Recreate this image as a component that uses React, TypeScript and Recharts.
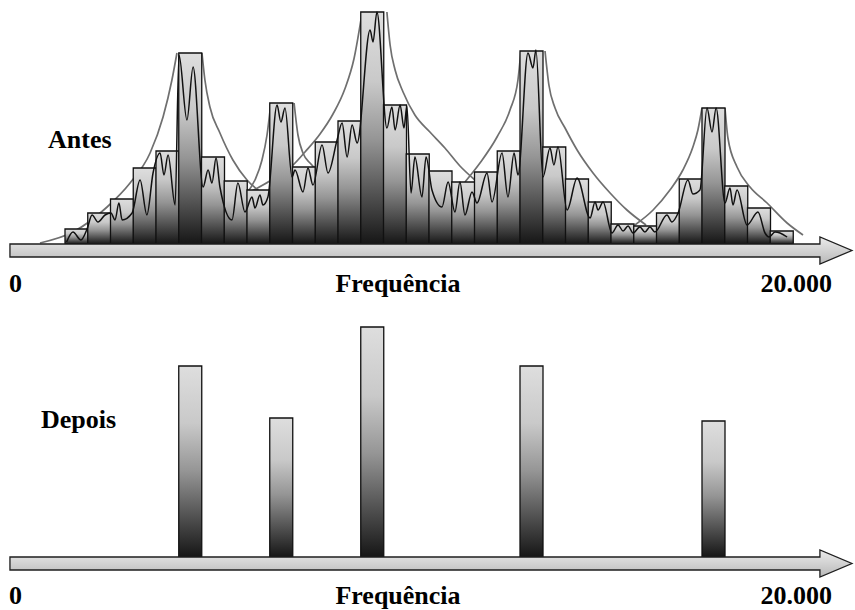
import { BarChart, Bar, LineChart, Line, XAxis, YAxis, ReferenceArea } from "recharts";

// layout of the drawing (pixels)
const W = 855;
const H = 270;
const LEFT = 65; // where the first frequency bin starts
const BIN = 22.75; // width of one bin
const BASE = 244; // baseline inside every chart box
const X_DOMAIN = [-LEFT / BIN, (W - LEFT) / BIN];
const Y_DOMAIN = [BASE - H, BASE];
const SERIF = "'Liberation Serif', 'Times New Roman', Times, serif";

// spectrum "Antes": one level per frequency bin
const bins = Array.from({ length: 32 }, (_, i) => `f${i + 1}`);
const beforeLevels = [
  15, 31, 45, 76, 93, 191, 87, 63, 54, 141, 77, 102, 123, 232, 139, 90,
  73, 62, 72, 93, 193, 97, 65, 42, 20, 18, 31, 65, 136, 58, 36, 13,
];

// "Depois": only the dominant bins survive
const afterBins = [6, 10, 14, 21, 29];
const afterLevels = [191, 139, 230, 191, 136];

// fine spectrum line (bin position, level)
const signal: [number, number][] = [
  [0.07, 2], [0.35, 12], [0.7, 4], [0.97, 15], [1.19, 29], [1.45, 22], [1.76, 29], [2.02, 31],
  [2.2, 24], [2.37, 41], [2.51, 24], [2.95, 31], [3.3, 64], [3.6, 29], [3.87, 71], [4.18, 91],
  [4.35, 69], [4.53, 89], [4.84, 39], [5.01, 189], [5.36, 124], [5.63, 177], [6.07, 57], [6.29, 74],
  [6.46, 61], [6.64, 86], [6.81, 57], [7.34, 24], [7.6, 61], [7.91, 32], [8.22, 47], [8.35, 36],
  [8.57, 49], [8.7, 39], [8.92, 47], [9.32, 139], [9.49, 122], [9.67, 136], [9.98, 67], [10.11, 74],
  [10.46, 52], [10.68, 76], [10.9, 59], [11.3, 99], [11.56, 71], [11.96, 104], [12.18, 121], [12.4, 87],
  [12.62, 119], [12.84, 101], [13.41, 214], [13.54, 202], [13.71, 232], [14.15, 116], [14.37, 137], [14.51, 114],
  [14.73, 139], [14.9, 116], [15.03, 138], [15.21, 51], [15.38, 87], [15.69, 47], [15.87, 87], [16.13, 54],
  [16.57, 37], [16.84, 62], [17.14, 32], [17.36, 62], [17.58, 29], [17.89, 52], [18.11, 41], [18.55, 71],
  [18.77, 42], [19.21, 91], [19.47, 47], [19.74, 91], [19.91, 69], [20.35, 191], [20.57, 176], [20.7, 194],
  [21.01, 67], [21.32, 96], [21.49, 79], [21.67, 97], [22.07, 34], [22.51, 66], [23.08, 26], [23.3, 42],
  [23.43, 34], [23.65, 42], [24.04, 11], [24.31, 19], [24.53, 13], [24.75, 18], [24.97, 11], [25.27, 17],
  [25.49, 12], [25.71, 17], [25.93, 12], [26.46, 29], [26.68, 22], [26.95, 31], [27.38, 64], [27.6, 50],
  [27.91, 54], [28.22, 136], [28.44, 112], [28.62, 136], [29.01, 41], [29.23, 56], [29.36, 39], [29.54, 54],
  [29.98, 19], [30.46, 32], [30.77, 11], [30.95, 7], [31.21, 12], [31.43, 11], [31.74, 7],
];

// masking envelopes around each peak
const risePeak1: [number, number][] = [[-1.1, 1], [0.35, 12], [1.85, 37], [2.86, 61], [3.74, 91], [4.31, 127], [4.7, 164], [4.92, 191]];
const fallPeak1: [number, number][] = [[6.02, 191], [6.15, 164], [6.37, 137], [6.81, 111], [7.38, 84], [8.0, 64], [8.79, 49]];
const risePeak2: [number, number][] = [[7.91, 49], [8.35, 64], [8.66, 84], [8.88, 109], [9.05, 141]];
const fallPeak2: [number, number][] = [[10.07, 141], [10.24, 109], [10.46, 91], [10.77, 81], [11.08, 74]];
const risePeak3: [number, number][] = [[8.13, 52], [9.0, 63], [10.07, 80], [10.55, 92], [11.21, 110], [11.78, 130], [12.3, 155], [12.7, 185], [13.05, 230]];
const fallPeak3: [number, number][] = [[14.15, 232], [14.29, 199], [14.51, 174], [14.86, 152], [15.38, 129], [16.04, 112], [16.7, 96], [17.36, 78], [18.02, 64]];
const risePeak4: [number, number][] = [[17.58, 62], [18.24, 81], [18.99, 107], [19.56, 134], [19.91, 164], [20.04, 193]];
const fallPeak4: [number, number][] = [[21.1, 193], [21.27, 159], [21.54, 136], [21.98, 116], [22.51, 94], [23.21, 71], [23.96, 51], [24.7, 34], [25.54, 19]];
const risePeak5: [number, number][] = [[25.05, 19], [25.85, 34], [26.59, 54], [27.16, 74], [27.6, 97], [27.82, 114], [28.0, 136]];
const fallPeak5: [number, number][] = [[29.01, 136], [29.14, 106], [29.54, 77], [30.11, 57], [30.86, 41], [31.74, 21], [32.44, 9]];
const envelopes = [risePeak1, fallPeak1, risePeak2, fallPeak2, risePeak3, fallPeak3, risePeak4, fallPeak4, risePeak5, fallPeak5];

// axis arrow extent in bin units
const axisStart = -2.42;
const axisEnd = 34.59;

const toPoints = (pts: [number, number][]) => pts.map(([u, v]) => ({ u, v }));

const beforeData = bins.map((bin, i) => ({ bin, level: beforeLevels[i] }));
const afterData = bins.map((bin, i) => {
  const k = afterBins.indexOf(i + 1);
  return { bin, level: k >= 0 ? afterLevels[k] : null };
});

function ArrowShape(props: any) {
  const { x, y, width, height } = props;
  const head = 32;
  const flare = 7;
  const x2 = x + width;
  const xs = x2 - head;
  const pts = [
    [x, y], [xs, y], [xs, y - flare], [x2, y + height / 2],
    [xs, y + height + flare], [xs, y + height], [x, y + height],
  ].map((p) => p.join(",")).join(" ");
  return <polygon points={pts} fill="url(#arrowFill)" stroke="#1e1e1e" strokeWidth={1.3} />;
}

function NumericLayer({ children }: { children: any }) {
  return (
    <LineChart width={W} height={H} margin={{ top: 0, right: 0, bottom: 0, left: 0 }}>
      <defs>
        <linearGradient id="arrowFill" x1="0" y1="0" x2="0" y2="1">
          <stop offset="0%" stopColor="#ececec" />
          <stop offset="100%" stopColor="#b8b8b8" />
        </linearGradient>
      </defs>
      <XAxis type="number" dataKey="u" domain={X_DOMAIN} hide allowDataOverflow />
      <YAxis type="number" domain={Y_DOMAIN} hide allowDataOverflow />
      {children}
    </LineChart>
  );
}

function Bars({ data, id }: { data: any[]; id: string }) {
  return (
    <BarChart
      width={W}
      height={H}
      data={data}
      margin={{ top: 0, right: W - LEFT - BIN * bins.length, bottom: 0, left: LEFT }}
      barCategoryGap={0}
      barGap={0}
    >
      <defs>
        <linearGradient id={id} x1="0" y1="0" x2="0" y2="1">
          <stop offset="0%" stopColor="#dedede" />
          <stop offset="30%" stopColor="#c9c9c9" />
          <stop offset="55%" stopColor="#959595" />
          <stop offset="80%" stopColor="#4e4e4e" />
          <stop offset="100%" stopColor="#161616" />
        </linearGradient>
      </defs>
      <XAxis dataKey="bin" hide />
      <YAxis type="number" domain={Y_DOMAIN} hide allowDataOverflow />
      <Bar dataKey="level" fill={`url(#${id})`} stroke="#111" strokeWidth={1.3} isAnimationActive={false} />
    </BarChart>
  );
}

const layer = (top: number): React.CSSProperties => ({ position: "absolute", left: 0, top });

const textStyle: React.CSSProperties = { fontFamily: SERIF, fontWeight: 700, fontSize: 26 };

export default function App() {
  const afterTop = 313;
  return (
    <div style={{ position: "absolute", left: 0, top: 0, width: W, height: 610, background: "#fff" }}>
      {/* Antes */}
      <div style={layer(0)}>
        <NumericLayer>
          {envelopes.map((env, i) => (
            <Line
              key={i}
              data={toPoints(env)}
              dataKey="v"
              type="monotone"
              stroke="#6f6f6f"
              strokeWidth={1.7}
              dot={false}
              activeDot={false}
              isAnimationActive={false}
            />
          ))}
        </NumericLayer>
      </div>
      <div style={layer(0)}>
        <Bars data={beforeData} id="shadeAntes" />
      </div>
      <div style={layer(0)}>
        <NumericLayer>
          <Line
            data={toPoints(signal)}
            dataKey="v"
            type="monotone"
            stroke="#111"
            strokeWidth={1.5}
            dot={false}
            activeDot={false}
            isAnimationActive={false}
          />
          <ReferenceArea x1={axisStart} x2={axisEnd} y1={-13} y2={0} ifOverflow="visible" shape={ArrowShape} />
        </NumericLayer>
      </div>

      {/* Depois */}
      <div style={layer(afterTop)}>
        <Bars data={afterData} id="shadeDepois" />
      </div>
      <div style={layer(afterTop)}>
        <NumericLayer>
          <ReferenceArea x1={axisStart} x2={axisEnd} y1={-13} y2={0} ifOverflow="visible" shape={ArrowShape} />
        </NumericLayer>
      </div>

      <svg width={W} height={610} style={{ position: "absolute", left: 0, top: 0, pointerEvents: "none" }}>
        <g fill="#000" style={textStyle}>
          <text x={48} y={148}>Antes</text>
          <text x={9} y={292}>0</text>
          <text x={398} y={292} textAnchor="middle">Frequência</text>
          <text x={832} y={292} textAnchor="end">20.000</text>
          <text x={41} y={428}>Depois</text>
          <text x={9} y={604}>0</text>
          <text x={398} y={604} textAnchor="middle">Frequência</text>
          <text x={832} y={604} textAnchor="end">20.000</text>
        </g>
      </svg>
    </div>
  );
}
